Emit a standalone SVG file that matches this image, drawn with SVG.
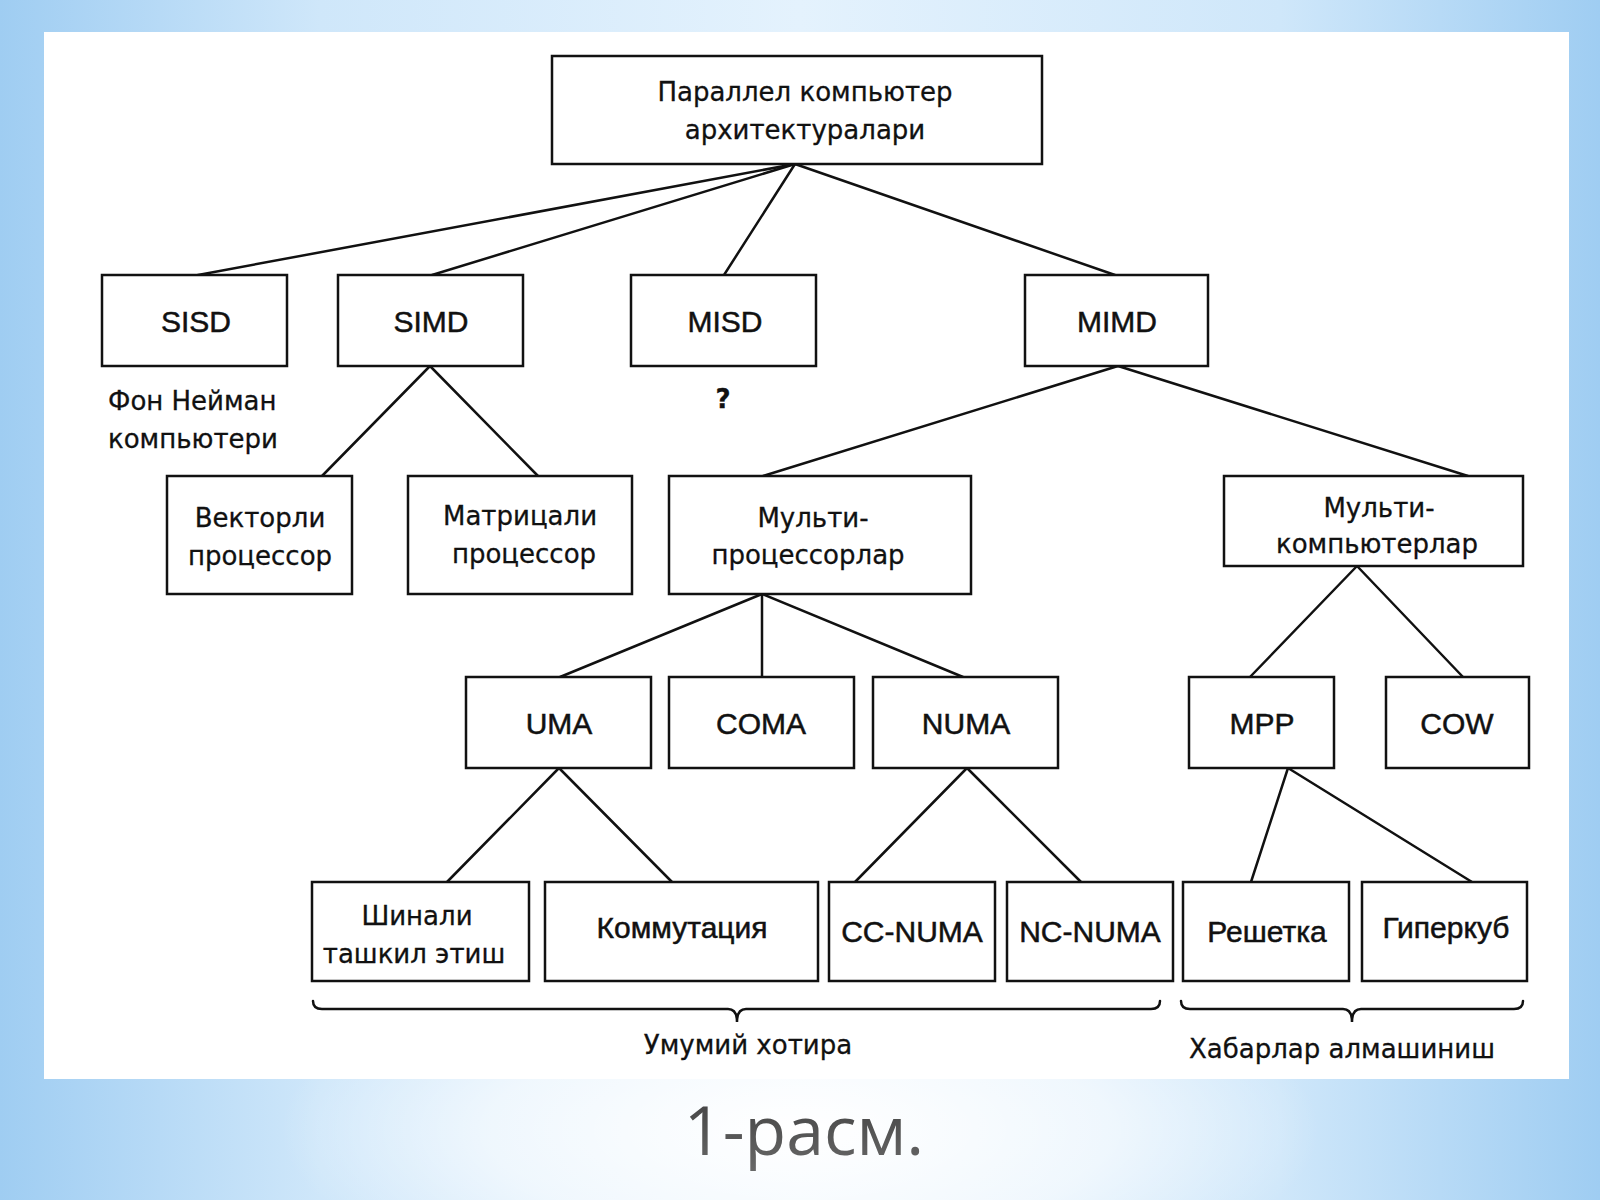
<svg xmlns="http://www.w3.org/2000/svg" width="1600" height="1200" viewBox="0 0 1600 1200">
<defs>
<linearGradient id="bgH" x1="0" y1="0" x2="1" y2="0">
<stop offset="0" stop-color="#9fcdf2"/>
<stop offset="0.2" stop-color="#cfe7fa"/>
<stop offset="0.5" stop-color="#e4f2fd"/>
<stop offset="0.8" stop-color="#cfe7fa"/>
<stop offset="1" stop-color="#9fcdf2"/>
</linearGradient>
<radialGradient id="bgR" cx="800" cy="1130" r="520" gradientUnits="userSpaceOnUse" gradientTransform="translate(800 1130) scale(1 0.35) translate(-800 -1130)">
<stop offset="0" stop-color="#ffffff" stop-opacity="1"/>
<stop offset="0.6" stop-color="#ffffff" stop-opacity="0.6"/>
<stop offset="1" stop-color="#ffffff" stop-opacity="0"/>
</radialGradient>
<linearGradient id="cap" x1="0" y1="0" x2="0" y2="1">
<stop offset="0" stop-color="#3c3c3c"/>
<stop offset="1" stop-color="#6a6a6a"/>
</linearGradient>
</defs>
<style>
.box{fill:#ffffff;stroke:#111111;stroke-width:2.5}
.ln{fill:none;stroke:#111111;stroke-width:2.5;stroke-linecap:round}
.t{font-family:"DejaVu Sans","Noto Sans",sans-serif;font-size:26px;fill:#111111;stroke:#111111;stroke-width:0.3;text-anchor:middle}
.a{font-family:"Liberation Sans",Arial,sans-serif;font-size:30px;fill:#111111;stroke:#111111;stroke-width:0.5;text-anchor:middle}
.l{font-family:"DejaVu Sans","Noto Sans",sans-serif;font-size:26px;fill:#111111;stroke:#111111;stroke-width:0.3}
.q{font-weight:bold}
</style>
<rect x="0" y="0" width="1600" height="1200" fill="url(#bgH)"/>
<rect x="0" y="900" width="1600" height="300" fill="url(#bgR)"/>
<rect x="44" y="32" width="1525" height="1047" fill="#ffffff"/>

<g id="connectors">
<line class="ln" x1="795" y1="164" x2="198" y2="275"/>
<line class="ln" x1="795" y1="164" x2="432" y2="275"/>
<line class="ln" x1="795" y1="164" x2="724" y2="275"/>
<line class="ln" x1="795" y1="164" x2="1115" y2="275"/>
<line class="ln" x1="430" y1="366" x2="322" y2="476"/>
<line class="ln" x1="430" y1="366" x2="538" y2="476"/>
<line class="ln" x1="1118" y1="366" x2="763" y2="476"/>
<line class="ln" x1="1118" y1="366" x2="1468" y2="476"/>
<line class="ln" x1="762" y1="594" x2="560" y2="677"/>
<line class="ln" x1="762" y1="594" x2="762" y2="677"/>
<line class="ln" x1="762" y1="594" x2="963" y2="677"/>
<line class="ln" x1="1357" y1="566" x2="1250" y2="677"/>
<line class="ln" x1="1357" y1="566" x2="1463" y2="677"/>
<line class="ln" x1="559" y1="768" x2="447" y2="882"/>
<line class="ln" x1="559" y1="768" x2="672" y2="882"/>
<line class="ln" x1="967" y1="768" x2="855" y2="882"/>
<line class="ln" x1="967" y1="768" x2="1081" y2="882"/>
<line class="ln" x1="1288" y1="768" x2="1251" y2="882"/>
<line class="ln" x1="1288" y1="768" x2="1472" y2="882"/>
</g>

<g id="root">
<rect class="box" x="552" y="56" width="490" height="108"/>
<text class="t" x="805" y="101">Параллел компьютер</text>
<text class="t" x="805" y="139">архитектуралари</text>
</g>

<g id="sisd">
<rect class="box" x="102" y="275" width="185" height="91"/>
<text class="a" x="196" y="332">SISD</text>
</g>
<g id="sisd-note">
<text class="l" x="108" y="410">Фон Нейман</text>
<text class="l" x="108" y="448">компьютери</text>
</g>
<g id="simd">
<rect class="box" x="338" y="275" width="185" height="91"/>
<text class="a" x="431" y="332">SIMD</text>
</g>
<g id="misd">
<rect class="box" x="631" y="275" width="185" height="91"/>
<text class="a" x="725" y="332">MISD</text>
</g>
<g id="misd-note">
<text class="t q" x="723" y="408">?</text>
</g>
<g id="mimd">
<rect class="box" x="1025" y="275" width="183" height="91"/>
<text class="a" x="1117" y="332">MIMD</text>
</g>

<g id="vector">
<rect class="box" x="167" y="476" width="185" height="118"/>
<text class="t" x="260" y="527">Векторли</text>
<text class="t" x="260" y="565">процессор</text>
</g>
<g id="matrix">
<rect class="box" x="408" y="476" width="224" height="118"/>
<text class="t" x="520" y="525">Матрицали</text>
<text class="t" x="524" y="563">процессор</text>
</g>
<g id="multiproc">
<rect class="box" x="669" y="476" width="302" height="118"/>
<text class="t" x="813" y="527">Мульти-</text>
<text class="t" x="808" y="564">процессорлар</text>
</g>
<g id="multicomp">
<rect class="box" x="1224" y="476" width="299" height="90"/>
<text class="t" x="1379" y="517">Мульти-</text>
<text class="t" x="1377" y="553">компьютерлар</text>
</g>

<g id="uma">
<rect class="box" x="466" y="677" width="185" height="91"/>
<text class="a" x="559" y="734">UMA</text>
</g>
<g id="coma">
<rect class="box" x="669" y="677" width="185" height="91"/>
<text class="a" x="761" y="734">COMA</text>
</g>
<g id="numa">
<rect class="box" x="873" y="677" width="185" height="91"/>
<text class="a" x="966" y="734">NUMA</text>
</g>
<g id="mpp">
<rect class="box" x="1189" y="677" width="145" height="91"/>
<text class="a" x="1262" y="734">MPP</text>
</g>
<g id="cow">
<rect class="box" x="1386" y="677" width="143" height="91"/>
<text class="a" x="1457" y="734">COW</text>
</g>

<g id="bus">
<rect class="box" x="312" y="882" width="217" height="99"/>
<text class="t" x="417" y="925">Шинали</text>
<text class="t" x="414" y="963">ташкил этиш</text>
</g>
<g id="switch">
<rect class="box" x="545" y="882" width="273" height="99"/>
<text class="a" x="682" y="938">Коммутация</text>
</g>
<g id="ccnuma">
<rect class="box" x="829" y="882" width="166" height="99"/>
<text class="a" x="912" y="942">CC-NUMA</text>
</g>
<g id="ncnuma">
<rect class="box" x="1007" y="882" width="166" height="99"/>
<text class="a" x="1090" y="942">NC-NUMA</text>
</g>
<g id="grid">
<rect class="box" x="1183" y="882" width="166" height="99"/>
<text class="a" x="1267" y="942">Решетка</text>
</g>
<g id="hypercube">
<rect class="box" x="1362" y="882" width="165" height="99"/>
<text class="a" x="1446" y="938">Гиперкуб</text>
</g>

<g id="brace-shared">
<path class="ln" d="M313,1001 Q313,1009 322,1009 L728,1009 Q737,1009 737,1022 Q737,1009 746,1009 L1151,1009 Q1160,1009 1160,1001"/>
<text class="t" x="748" y="1054">Умумий хотира</text>
</g>
<g id="brace-message">
<path class="ln" d="M1181,1001 Q1181,1009 1190,1009 L1343,1009 Q1352,1009 1352,1022 Q1352,1009 1361,1009 L1514,1009 Q1523,1009 1523,1001"/>
<text class="t" x="1342" y="1058">Хабарлар алмашиниш</text>
</g>

<text x="804" y="1155" font-family="'Open Sans','DejaVu Sans',sans-serif" font-size="68" fill="url(#cap)" text-anchor="middle">1-расм.</text>
</svg>
